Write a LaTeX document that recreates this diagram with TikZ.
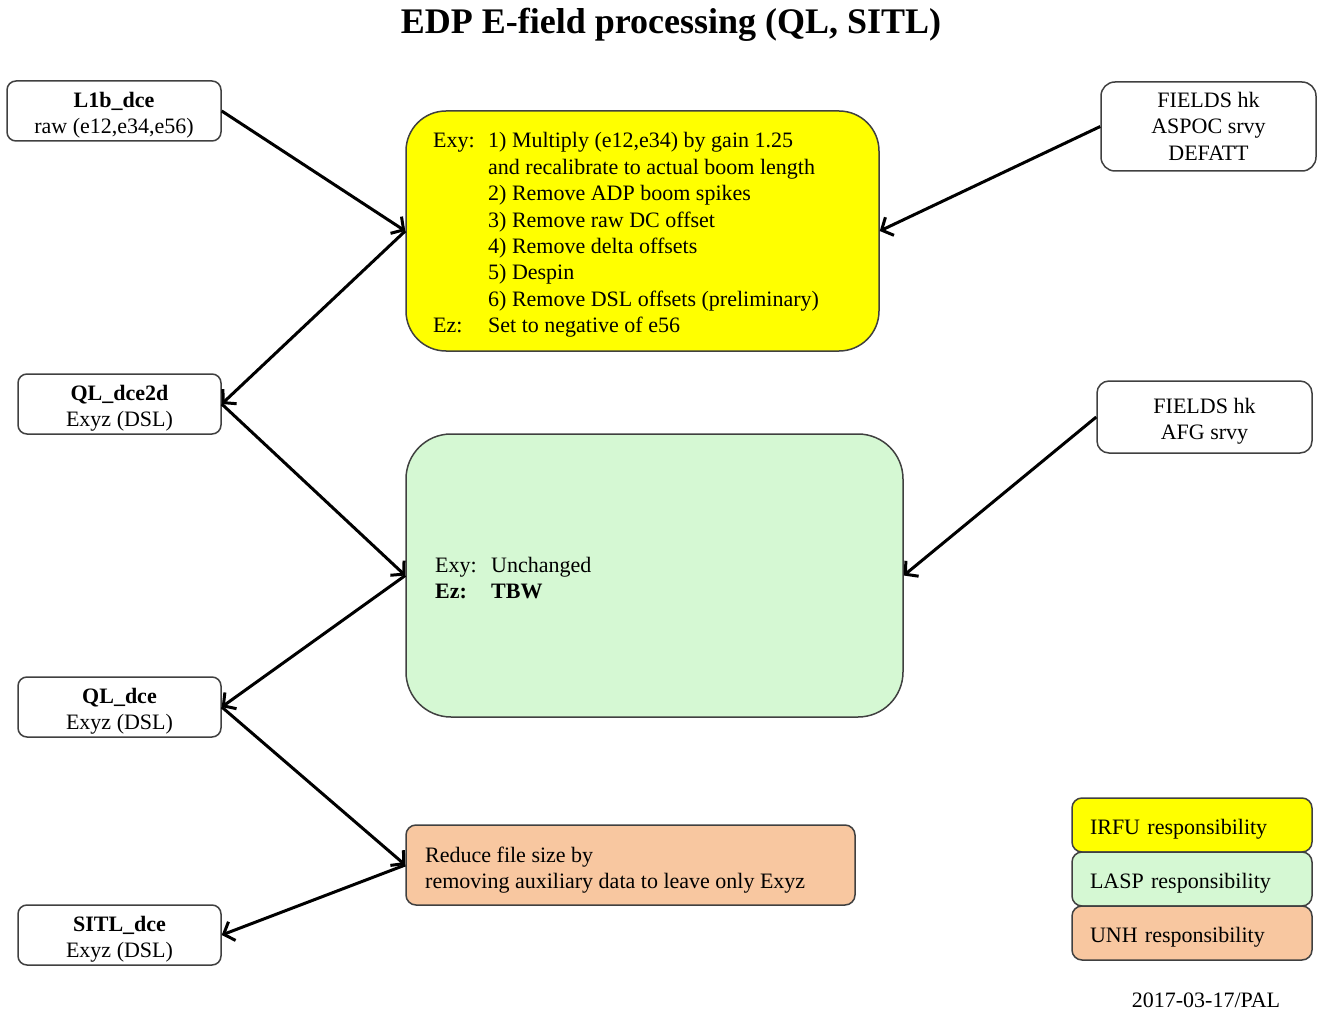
\documentclass[tikz,border=0pt]{standalone}
\usepackage{fontspec}
\setmainfont{Liberation Serif}
\usetikzlibrary{arrows.meta}
\definecolor{yelfill}{HTML}{FFFF00}
\definecolor{grnfill}{HTML}{D5F8D3}
\definecolor{orgfill}{HTML}{F8C7A0}
\definecolor{bordc}{HTML}{404040}
\newcommand{\dnshift}[2]{\raisebox{-#1}[\height][\depth]{\begin{tabular}{@{}c@{}}#2\end{tabular}}}
\newcommand{\dnleft}[1]{\raisebox{-4pt}[\height][\depth]{#1}}
\begin{document}
\begin{tikzpicture}[x=1pt,y=-1pt,
  every node/.style={font=\fontsize{22}{26.4}\selectfont},
  databox/.style={draw=bordc, line width=1.5pt, rounded corners=9pt, fill=white, align=center, inner sep=0pt},
  procbox/.style={draw=bordc, line width=1.5pt, inner sep=0pt},
  legbox/.style={draw=bordc, line width=1.5pt, rounded corners=10pt, inner xsep=18pt, inner ysep=0pt,
    minimum height=54pt, text width=204pt, align=left},
  flow/.style={line width=3pt, -{Straight Barb[length=9pt,width=20pt]}},
  txt/.style={inner sep=0pt, anchor=base west}]
\useasboundingbox (0,0) rectangle (1323,1011);

% title
\node[font=\fontsize{36}{43}\selectfont\bfseries] (title) at (671,25) {EDP E-field processing (QL, SITL)};

% data boxes
\node[databox, minimum width=214pt, minimum height=60pt] (l1b) at (114,111) {\dnshift{4pt}{\textbf{L1b\_dce}\\raw (e12,e34,e56)}};
\node[databox, minimum width=203pt, minimum height=60pt] (ql2d) at (119.5,404) {\dnshift{4pt}{\textbf{QL\_dce2d}\\Exyz (DSL)}};
\node[databox, minimum width=203pt, minimum height=60pt] (qldce) at (119.5,707) {\dnshift{4pt}{\textbf{QL\_dce}\\Exyz (DSL)}};
\node[databox, minimum width=203pt, minimum height=60pt] (sitl) at (119.5,935) {\dnshift{4pt}{\textbf{SITL\_dce}\\Exyz (DSL)}};
\node[databox, rounded corners=14pt, minimum width=215pt, minimum height=89pt] (aspoc) at (1208.5,126.5) {\dnshift{2pt}{FIELDS hk\\ASPOC srvy\\DEFATT}};
\node[databox, rounded corners=12pt, minimum width=215pt, minimum height=72pt] (afg) at (1204.5,417) {\dnshift{4pt}{FIELDS hk\\AFG srvy}};

% process boxes
\node[procbox, fill=yelfill, rounded corners=40pt, minimum width=473pt, minimum height=240pt] (irfu) at (642.5,231) {};
\node[procbox, fill=grnfill, rounded corners=45pt, minimum width=497pt, minimum height=283pt] (lasp) at (654.5,575.5) {};
\node[procbox, fill=orgfill, rounded corners=10pt, minimum width=449pt, minimum height=80pt] (unh) at (630.5,865) {};

% process texts
\node[txt] (irfutxt) at (433,148) {\begin{tabular}[t]{@{}p{55pt}@{}l@{}}
Exy: & 1) Multiply (e12,e34) by gain 1.25\\
 & and recalibrate to actual boom length\\
 & 2) Remove ADP boom spikes\\
 & 3) Remove raw DC offset\\
 & 4) Remove delta offsets\\
 & 5) Despin\\
 & 6) Remove DSL offsets (preliminary)\\
Ez: & Set to negative of e56
\end{tabular}};
\node[txt] (lasptxt) at (435,572) {\begin{tabular}[t]{@{}p{56pt}@{}l@{}}
Exy: & Unchanged\\
\textbf{Ez:} & \textbf{TBW}
\end{tabular}};
\node[txt] (unhtxt) at (425,862) {\begin{tabular}[t]{@{}l@{}}
Reduce file size by\\
removing auxiliary data to leave only Exyz
\end{tabular}};

% legend
\node[legbox, fill=yelfill] (legirfu) at (1192,825) {\dnleft{IRFU responsibility}};
\node[legbox, fill=grnfill] (leglasp) at (1192,879) {\dnleft{LASP responsibility}};
\node[legbox, fill=orgfill] (legunh) at (1192,933) {\dnleft{UNH responsibility}};

\node[inner sep=0pt] (date) at (1206,1000) {2017-03-17/PAL};

% connectors
\draw[flow] (l1b.east) -- (irfu.west);
\draw[flow] (irfu.west) -- (ql2d.east);
\draw[flow] (aspoc.west) -- (irfu.east);
\draw[flow] (ql2d.east) -- (lasp.west);
\draw[flow] (lasp.west) -- (qldce.east);
\draw[flow] (afg.west) -- (lasp.east);
\draw[flow] (qldce.east) -- (unh.west);
\draw[flow] (unh.west) -- (sitl.east);
\end{tikzpicture}
\end{document}
